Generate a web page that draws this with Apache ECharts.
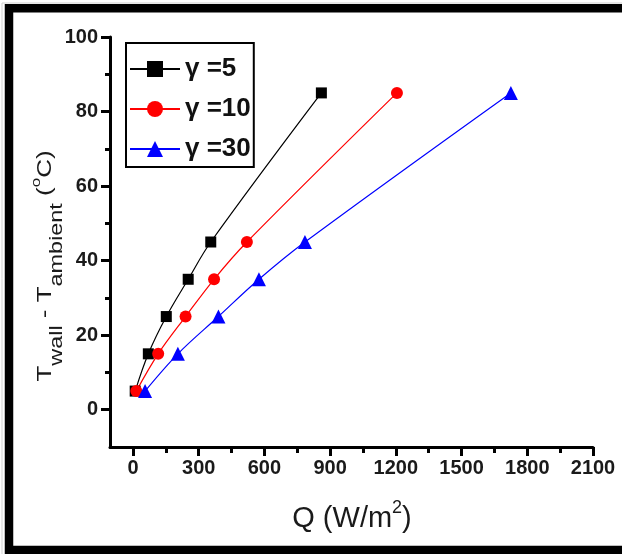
<!DOCTYPE html>
<html>
<head>
<meta charset="utf-8">
<script src="https://cdn.jsdelivr.net/npm/echarts@6/dist/echarts.min.js"></script>
<style>
html,body{margin:0;padding:0;background:#fff;}
#chart{width:622px;height:554px;}
</style>
</head>
<body>
<div id="chart"></div>
<script>
// ---- data ----
var seriesNames = ['γ =5', 'γ =10', 'γ =30'];
var deltaT = [5, 15, 25, 35, 45, 85];
var qGamma5 = [10, 70, 152, 252, 355, 860];
var qGamma10 = [15, 115, 240, 370, 520, 1205];
var qGamma30 = [55, 205, 390, 575, 785, 1725];
var xMajorTicks = [0, 300, 600, 900, 1200, 1500, 1800, 2100];
var xMinorTicks = [150, 450, 750, 1050, 1350, 1650, 1950];
var yMajorTicks = [0, 20, 40, 60, 80, 100];
var yMinorTicks = [10, 30, 50, 70, 90];

function pairs(xs, ys) {
  return xs.map(function (x, i) { return [x, ys[i]]; });
}

var chart = echarts.init(document.getElementById('chart'), null, {renderer: 'canvas'});
var labelFont = {color: '#1a1a1a', fontWeight: 'bold', fontSize: 20, fontFamily: '"Liberation Sans", Arial, sans-serif'};
var axisLineStyle = {color: '#000', width: 3};
function plain(v) { return String(v); }

function xAxisDef(ticks, len, showLine, showLabel) {
  return {
    type: 'value', min: -105, max: 2100, position: 'bottom',
    axisLine: {show: showLine, onZero: false, lineStyle: axisLineStyle},
    axisTick: {show: true, customValues: ticks, length: len, lineStyle: {color: '#000', width: 3}},
    axisLabel: Object.assign({show: showLabel, customValues: ticks, margin: 11, formatter: plain}, labelFont),
    splitLine: {show: false}
  };
}
function yAxisDef(ticks, len, showLine, showLabel) {
  return {
    type: 'value', min: -10, max: 100, position: 'left',
    axisLine: {show: showLine, onZero: false, lineStyle: axisLineStyle},
    axisTick: {show: true, customValues: ticks, length: len, lineStyle: {color: '#000', width: 3}},
    axisLabel: Object.assign({show: showLabel, customValues: ticks, margin: 12, formatter: plain}, labelFont),
    splitLine: {show: false}
  };
}

var option = {
  backgroundColor: '#fff',
  animation: false,
  grid: {left: 110, right: 29, top: 37, bottom: 107},
  legend: {
    orient: 'vertical', left: 126, top: 43,
    borderColor: '#000', borderWidth: 2,
    padding: [13, 3, 5, 3],
    itemWidth: 50, itemHeight: 20, itemGap: 14,
    textStyle: {color: '#111', fontWeight: 'bold', fontSize: 26, lineHeight: 26, fontFamily: '"Liberation Sans", Arial, sans-serif'},
    data: seriesNames
  },
  xAxis: [xAxisDef(xMajorTicks, 9, true, true), xAxisDef(xMinorTicks, 6, false, false)],
  yAxis: [yAxisDef(yMajorTicks, 9, true, true), yAxisDef(yMinorTicks, 5, false, false)],
  series: [
    {name: seriesNames[0], type: 'line', data: pairs(qGamma5, deltaT), smooth: 0.35,
     symbol: 'rect', symbolSize: 11, itemStyle: {color: '#000'}, lineStyle: {color: '#000', width: 1.2}},
    {name: seriesNames[1], type: 'line', data: pairs(qGamma10, deltaT), smooth: 0.35,
     symbol: 'circle', symbolSize: 12, itemStyle: {color: '#ff0000'}, lineStyle: {color: '#ff0000', width: 1.2}},
    {name: seriesNames[2], type: 'line', data: pairs(qGamma30, deltaT), smooth: 0.35,
     symbol: 'triangle', symbolSize: 14, itemStyle: {color: '#0000ff'}, lineStyle: {color: '#0000ff', width: 1.2}}
  ],
  graphic: [
    {type: 'rect', silent: true, shape: {x: 9, y: 8.3, width: 700, height: 541.7},
     style: {fill: 'none', stroke: '#000', lineWidth: 8.5}},
    {type: 'line', silent: true, shape: {x1: 2, y1: 3, x2: 2, y2: 554}, style: {stroke: '#cfcfcf', lineWidth: 1}},
    {type: 'line', silent: true, shape: {x1: 2, y1: 3, x2: 622, y2: 3}, style: {stroke: '#cfcfcf', lineWidth: 1}},
    {type: 'text', silent: true, x: 352, y: 516,
     style: {
       text: '{m|Q (W/m}{s|2}{m|)}', align: 'center', verticalAlign: 'middle',
       rich: {
         m: {fontSize: 29, fontFamily: '"Liberation Sans", Arial, sans-serif', fill: '#1a1a1a', verticalAlign: 'bottom', lineHeight: 34},
         s: {fontSize: 18, fontFamily: '"Liberation Sans", Arial, sans-serif', fill: '#1a1a1a', verticalAlign: 'top', lineHeight: 34}
       }
     }},
    {type: 'text', silent: true, x: 45, y: 266, rotation: Math.PI / 2, scaleX: 1.3,
     style: {
       text: '{m|T}{b|wall}{m| - T}{b|ambient}{m| (}{s|o}{m|C)}', align: 'center', verticalAlign: 'middle',
       rich: {
         m: {fontSize: 20, fontFamily: '"Liberation Sans", Arial, sans-serif', fill: '#1a1a1a', verticalAlign: 'middle', lineHeight: 30},
         b: {fontSize: 18, fontFamily: '"Liberation Sans", Arial, sans-serif', fill: '#1a1a1a', verticalAlign: 'bottom', lineHeight: 30, padding: [0, 0, -6, 0]},
         s: {fontSize: 13, fontFamily: '"Liberation Sans", Arial, sans-serif', fill: '#1a1a1a', verticalAlign: 'top', lineHeight: 30}
       }
     }}
  ]
};
chart.setOption(option);
</script>
</body>
</html>
